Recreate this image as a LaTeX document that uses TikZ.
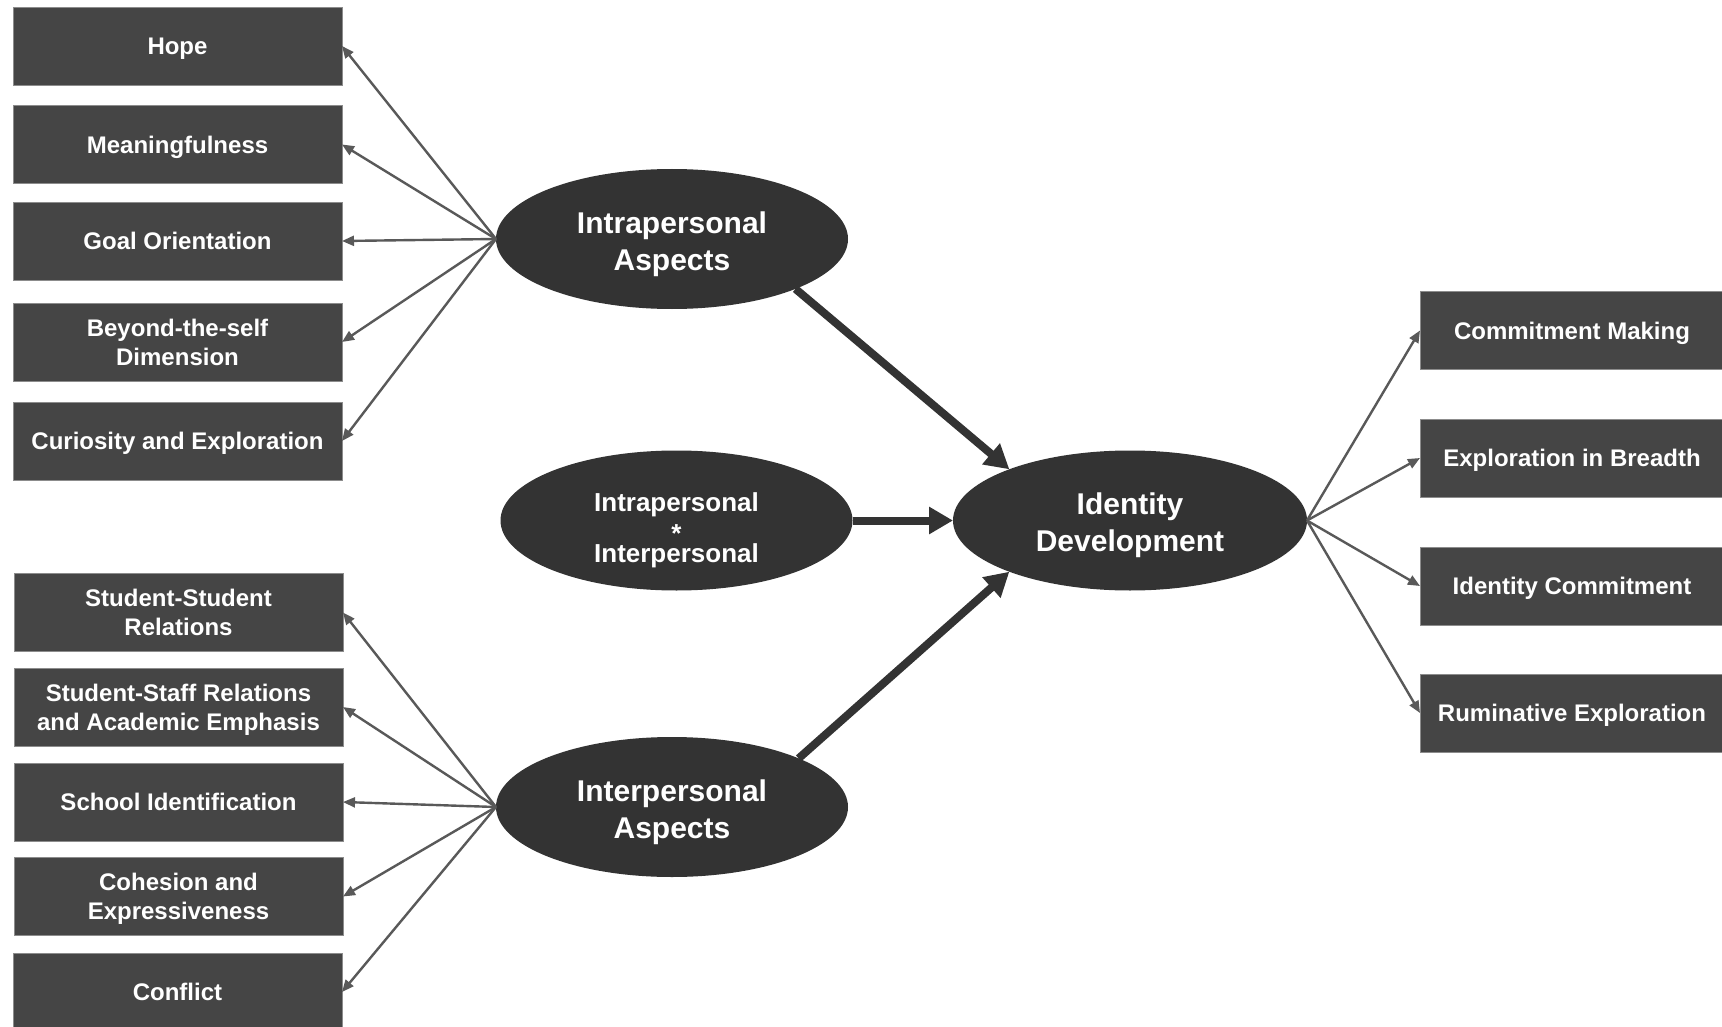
\documentclass[tikz,border=0pt]{standalone}
\usepackage{fontspec}
\setmainfont{Liberation Sans}
\usetikzlibrary{arrows.meta,shapes.geometric}
\definecolor{boxfill}{RGB}{69,69,69}
\definecolor{boxline}{RGB}{140,140,140}
\definecolor{ovalfill}{RGB}{51,51,51}
\definecolor{thinline}{RGB}{89,89,89}
% invisible strut that pushes a text block downwards
\newcommand{\toppad}[1]{\rule{0pt}{#1}}

\begin{document}
\begin{tikzpicture}[x=1pt,y=-1pt,
  factorbox/.style={rectangle, fill=boxfill, draw=boxline, line width=0.8pt,
    minimum width=329pt, minimum height=78pt, inner sep=0pt, outer sep=0pt,
    text depth=0pt, text=white, align=center,
    font=\fontsize{24}{29}\selectfont\bfseries},
  outcomebox/.style={factorbox, minimum width=304pt},
  latent/.style={ellipse, fill=ovalfill, minimum width=352pt, minimum height=140pt,
    inner sep=0pt, outer sep=0pt, text depth=0pt, text=white, align=center,
    font=\fontsize{30}{37}\selectfont\bfseries},
  loading/.style={draw=thinline, line width=2.4pt, -{Triangle[length=12pt,width=10pt]}},
  effect/.style={draw=ovalfill, line width=8pt, -{Triangle[length=24pt,width=26pt]}},
]
\fill[white] (0,0) rectangle (1722,1027);
\useasboundingbox (0,0) rectangle (1722,1027);
\clip (0,0) rectangle (1722,1027);

% intrapersonal indicators
\node[factorbox] (hope)  at (177.5,46)    {Hope};
\node[factorbox] (mean)  at (177.5,144.5) {Meaningfulness};
\node[factorbox] (goal)  at (177.5,241)   {Goal Orientation};
\node[factorbox] (beyond) at (177.5,342)  {Beyond-the-self\\Dimension};
\node[factorbox] (curio) at (177.5,441)   {Curiosity and Exploration};

% interpersonal indicators
\node[factorbox] (stst)  at (178.5,612.5) {Student-Student\\Relations};
\node[factorbox] (stsf)  at (178.5,707)   {Student-Staff Relations\\and Academic Emphasis};
\node[factorbox] (school) at (178.5,802)  {School Identification};
\node[factorbox] (cohes) at (178.5,896.5) {Cohesion and\\Expressiveness};
\node[factorbox] (confl) at (177.5,992)   {Conflict};

% latent constructs
\node[latent] (intra) at (672,239) {\toppad{26pt}Intrapersonal\\Aspects};
\node[latent, font=\fontsize{26}{23.5}\selectfont\bfseries] (mix) at (676.5,520.5)
  {\toppad{33pt}Intrapersonal\\\raisebox{-8pt}{*}\\Interpersonal};
\node[latent] (inter) at (672,807) {\toppad{26pt}Interpersonal\\Aspects};
\node[latent, minimum width=354pt] (ident) at (1130,520.5) {\toppad{24pt}Identity\\Development};

% identity outcomes
\node[outcomebox] (cmk)  at (1572,330.5) {Commitment Making};
\node[outcomebox] (expb) at (1572,458)   {Exploration in Breadth};
\node[outcomebox] (idc)  at (1572,586)   {Identity Commitment};
\node[outcomebox] (rum)  at (1572,713)   {Ruminative Exploration};

% loadings
\foreach \b in {hope,mean,goal,beyond,curio}
  \draw[loading] (intra.west) -- (\b.east);
\foreach \b in {stst,stsf,school,cohes,confl}
  \draw[loading] (inter.west) -- (\b.east);
\foreach \b in {cmk,expb,idc,rum}
  \draw[loading] (ident.east) -- (\b.west);

% structural paths
\draw[effect] (intra.-22) -- (ident.157);
\draw[effect] (mix.east) -- (ident.west);
\draw[effect] (inter.21) -- (ident.203);
\end{tikzpicture}
\end{document}
